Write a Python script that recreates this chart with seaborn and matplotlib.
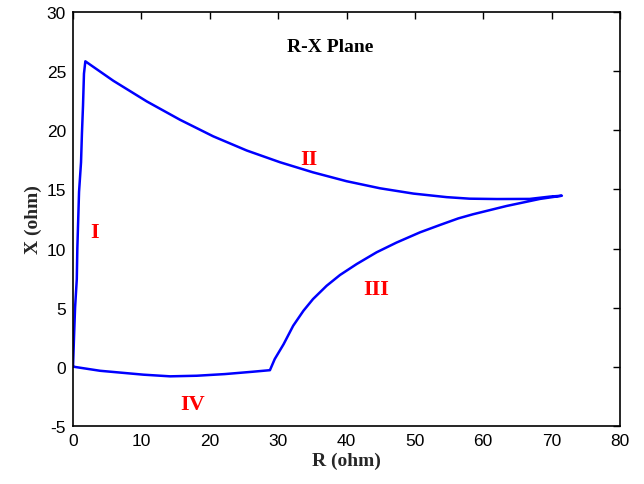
import matplotlib
matplotlib.use("Agg")
import matplotlib.pyplot as plt
import seaborn as sns
import pandas as pd
import numpy as np

# Trajectory in the R-X plane (segments I -> II -> III -> IV)
seg_I_R = [0.0, 0.15, 0.3, 0.55, 0.63, 0.88, 1.17, 1.3, 1.46, 1.6, 1.8]
seg_I_X = [0.0, 2.6, 5.0, 7.4, 10.0, 14.8, 17.3, 19.7, 22.1, 24.8, 25.85]

seg_II_R = [5.9, 10.8, 15.65, 20.5, 25.4, 30.3, 35.1, 40.0, 44.9, 49.8, 54.65,
            58.0, 62.0, 66.8, 69.8, 71.5]
seg_II_X = [24.2, 22.45, 20.9, 19.5, 18.3, 17.3, 16.45, 15.7, 15.1, 14.65, 14.35,
            14.22, 14.19, 14.2, 14.4, 14.47]

seg_III_R = [68.3, 63.4, 58.5, 56.35, 53.7, 50.75, 47.3, 44.4, 41.5, 39.05,
             37.1, 35.1, 33.7, 32.2, 30.8, 29.5, 28.8]
seg_III_X = [14.2, 13.6, 12.9, 12.55, 12.0, 11.37, 10.5, 9.68, 8.69, 7.76,
             6.85, 5.72, 4.73, 3.46, 1.9, 0.64, -0.3]

seg_IV_R = [26.3, 22.2, 18.1, 14.2, 10.3, 3.95, 0.0]
seg_IV_X = [-0.43, -0.63, -0.77, -0.82, -0.68, -0.35, 0.0]

labels = ["I", "II", "III", "IV"]
label_R = [3.1, 34.5, 44.3, 17.5]
label_X = [11.4, 17.6, 6.6, -3.2]

title_text = "R-X Plane"
xlabel = "R (ohm)"
ylabel = "X (ohm)"
xticks = [0, 10, 20, 30, 40, 50, 60, 70, 80]
yticks = [-5, 0, 5, 10, 15, 20, 25, 30]

R = seg_I_R + seg_II_R + seg_III_R + seg_IV_R
X = seg_I_X + seg_II_X + seg_III_X + seg_IV_X
df = pd.DataFrame({"R": R, "X": X, "order": np.arange(len(R))})

sns.set_style("white")
plt.rcParams["font.family"] = ["Liberation Sans", "DejaVu Sans"]
plt.rcParams["axes.unicode_minus"] = False

fig = plt.figure(figsize=(6.44, 4.85), dpi=100)
ax = fig.add_axes([0.1134, 0.1202, 0.8493, 0.8524])

sns.lineplot(data=df, x="R", y="X", sort=False, estimator=None,
             color=(0, 0, 1), linewidth=1.8, ax=ax)

ax.set_xlim(0, 80)
ax.set_ylim(-5, 30)
ax.set_xticks(xticks)
ax.set_yticks(yticks)
ax.tick_params(direction="in", length=5, width=1, labelsize=12.5,
               top=True, right=True, colors="black", pad=5)
for s in ax.spines.values():
    s.set_color("black")
    s.set_linewidth(1.2)

serif = ["Liberation Serif", "DejaVu Serif"]
ax.set_xlabel(xlabel, fontsize=14, fontweight="bold", family=serif, labelpad=3)
ax.set_ylabel(ylabel, fontsize=14, fontweight="bold", family=serif, labelpad=3)

ax.text(37.6, 27.1, title_text, fontsize=14, fontweight="bold",
        family=serif, ha="center", va="center", color="black")

for t, rx, xx in zip(labels, label_R, label_X):
    ax.text(rx, xx, t, fontsize=16, fontweight="bold", color="red",
            family=serif, ha="center", va="center")

fig.savefig("out.png", dpi=100)
